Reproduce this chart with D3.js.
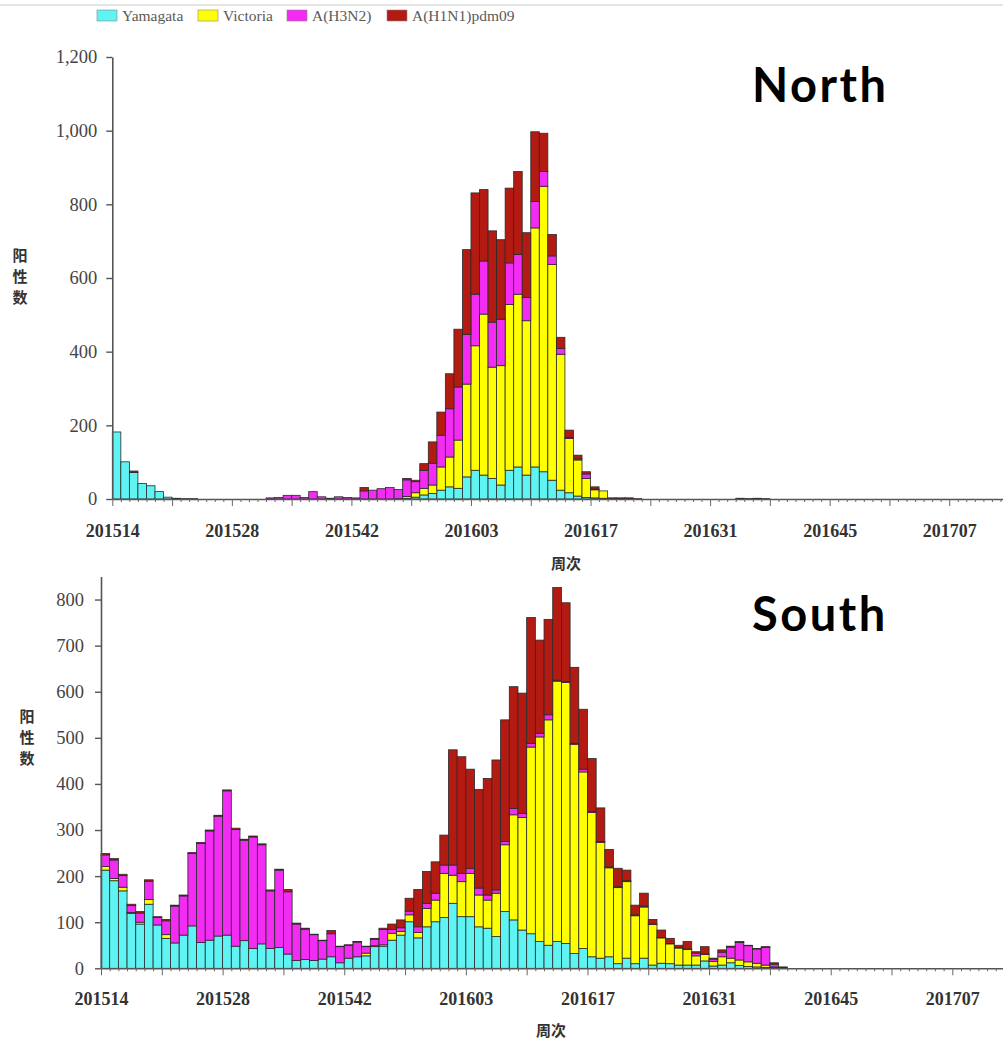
<!DOCTYPE html>
<html><head><meta charset="utf-8">
<script src="https://cdn.jsdelivr.net/npm/d3@7"></script>
<style>body{margin:0;background:#fff}svg{display:block}</style>
</head><body><svg id="c" width="1003" height="1044"></svg>
<script>
const weeks = [
"201514","201515","201516","201517","201518","201519","201520","201521","201522","201523",
"201524","201525","201526","201527","201528","201529","201530","201531","201532","201533",
"201534","201535","201536","201537","201538","201539","201540","201541","201542","201543",
"201544","201545","201546","201547","201548","201549","201550","201551","201552","201553",
"201601","201602","201603","201604","201605","201606","201607","201608","201609","201610",
"201611","201612","201613","201614","201615","201616","201617","201618","201619","201620",
"201621","201622","201623","201624","201625","201626","201627","201628","201629","201630",
"201631","201632","201633","201634","201635","201636","201637","201638","201639","201640",
"201641","201642","201643","201644","201645","201646","201647","201648","201649","201650",
"201651","201652","201701","201702","201703","201704","201705","201706","201707","201708",
"201709","201710","201711","201712","201713","201714"];
const tickLabels = ["201514","201528","201542","201603","201617","201631","201645","201707"];
const seriesNames = ["Yamagata","Victoria","A(H3N2)","A(H1N1)pdm09"];
const seriesColors = ["#5ff3f3","#ffff00","#f22cf2","#b31b12"];

// North
const northYamagata = [182,101,72,42,36,20,5,2,1,1,0,0,0,0,0,0,0,0,0,0,0,0,0,0,0,0,0,0,0,0,0,0,0,1,2,5,11,15,24,33,29,60,78,65,56,38,78,87,65,87,74,51,24,17,8,4,3,2,0,0,0,0,0,0,0,0,0,0,0,0,0,0,0,0,0,0,0,0,0,0,0,0,0,0,0,0,0,0,0,0,0,0,0,0,0,0,0,0,0,0,0,0,0,0,0,0];
const northVictoria = [0,0,0,0,0,0,0,0,0,0,0,0,0,0,0,0,0,0,0,0,0,0,0,0,0,0,0,0,0,0,0,0,0,0,5,12,18,23,63,81,131,252,338,437,302,324,450,469,419,649,775,586,369,147,98,52,22,20,0,0,0,0,0,0,0,0,0,0,0,0,0,0,0,0,0,0,0,0,0,0,0,0,0,0,0,0,0,0,0,0,0,0,0,0,0,0,0,0,0,0,0,0,0,0,0,0];
const northH3N2 = [0,0,0,0,0,0,0,0,0,0,0,0,0,0,0,0,0,0,3,4,10,10,4,20,6,2,6,4,3,22,24,28,31,25,45,30,49,59,86,131,144,135,140,144,122,126,113,108,63,72,40,23,16,3,3,12,2,0,2,2,2,1,0,0,0,0,0,0,0,0,0,0,0,2,0,2,1,0,0,0,0,0,0,0,0,0,0,0,0,0,0,0,0,0,0,0,0,0,0,0,0,0,0,0,0,0];
const northH1N1 = [0,0,4,0,0,0,0,0,0,0,0,0,0,0,0,0,0,0,0,0,0,0,0,0,0,0,0,0,0,9,0,0,0,0,4,4,18,58,63,95,157,230,275,194,248,216,203,225,176,189,104,58,30,20,10,6,6,0,1,1,1,0,0,0,0,0,0,0,0,0,0,0,0,0,1,0,0,0,0,0,0,0,0,0,0,0,0,0,0,0,0,0,0,0,0,0,0,0,0,0,0,0,0,0,0,0];

// South
const southYamagata = [213,190,168,119,96,139,94,65,55,72,92,56,61,70,72,48,60,43,53,43,45,31,17,19,17,20,25,12,22,25,27,47,48,61,72,101,66,90,101,110,141,112,112,90,87,69,123,105,83,75,58,50,58,54,32,43,25,22,25,10,22,10,22,7,11,10,7,7,7,16,5,7,12,6,4,3,2,1,0,0,0,0,0,0,0,0,0,0,0,0,0,0,0,0,0,0,0,0,0,0,0,0,0,0,0,0];
const southVictoria = [8,5,8,2,4,10,0,8,0,0,0,0,0,0,0,0,0,0,0,0,0,0,0,0,0,0,0,0,0,0,6,2,3,15,8,15,12,40,47,96,61,76,94,69,61,94,145,228,244,405,444,489,565,566,454,383,313,251,193,165,166,104,111,88,55,43,37,34,20,14,10,18,10,12,10,8,5,2,0,0,0,0,0,0,0,0,0,0,0,0,0,0,0,0,0,0,0,0,0,0,0,0,0,0,0,0];
const southH3N2 = [25,40,25,15,20,40,16,30,80,85,157,215,237,260,313,253,218,242,215,125,168,135,79,66,56,40,50,35,28,32,14,14,33,8,8,8,12,11,15,18,22,18,11,15,11,7,7,14,9,8,8,11,2,2,2,6,2,2,2,2,2,2,2,1,1,1,1,1,6,1,5,10,24,38,35,31,38,6,2,0,0,0,0,0,0,0,0,0,0,0,0,0,0,0,0,0,0,0,0,0,0,0,0,0,0,0];
const southH1N1 = [3,3,3,3,3,3,2,3,2,2,2,2,2,2,2,3,2,2,2,2,2,5,2,2,1,1,7,1,1,1,1,2,3,12,17,28,81,69,68,65,250,253,215,214,253,282,264,264,261,273,202,207,201,171,165,130,115,73,38,40,23,21,28,10,16,11,5,16,3,16,2,5,2,2,1,1,2,3,1,0,0,0,0,0,0,0,0,0,0,0,0,0,0,0,0,0,0,0,0,0,0,0,0,0,0,0];

const northTicks = [0,200,400,600,800,1000,1200];
const southTicks = [0,100,200,300,400,500,600,700,800];

const svg = d3.select("#c");
const serif = "'Liberation Serif','Times New Roman',serif";
const cjk = "'Noto Sans CJK SC',sans-serif";

// top rule
svg.append("line").attr("x1",0).attr("x2",1003).attr("y1",5).attr("y2",5)
  .attr("stroke","#e4e4e4").attr("stroke-width",2);

// legend
const legX = [97,198,287,387];
seriesNames.forEach((n,i)=>{
  svg.append("rect").attr("x",legX[i]).attr("y",10).attr("width",20).attr("height",11)
    .attr("fill",seriesColors[i]).attr("stroke","#888").attr("stroke-width",0.6);
  svg.append("text").attr("x",legX[i]+25).attr("y",20.5).text(n)
    .attr("font-family",serif).attr("font-size",15.5).attr("fill","#5a5a5a");
});

function panel(cfg){
  const rows = weeks.map((w,i)=>({week:w, Yamagata:cfg.data[0][i], Victoria:cfg.data[1][i], "A(H3N2)":cfg.data[2][i], "A(H1N1)pdm09":cfg.data[3][i]}));
  const stack = d3.stack().keys(seriesNames)(rows);
  const n = weeks.length;
  const x = d3.scaleBand().domain(weeks).range([cfg.x0, cfg.x0 + cfg.step*n]).padding(0);
  const xi = d3.scaleLinear().domain([0,n]).range([cfg.x0, cfg.x0 + cfg.step*n]);
  const y = d3.scaleLinear().domain([0,cfg.ymax]).range([cfg.y0, cfg.ytop]);
  const g = svg.append("g");
  stack.forEach((s,k)=>{
    g.append("g").selectAll("rect").data(s.filter(d=>d[1]-d[0]>0)).join("rect")
      .attr("x",d=>x(d.data.week)).attr("width",x.bandwidth())
      .attr("y",d=>y(d[1])).attr("height",d=>y(d[0])-y(d[1]))
      .attr("fill",seriesColors[k]).attr("stroke","#2a2a2a").attr("stroke-width",0.8);
  });
  // y axis
  const ya = g.append("g").attr("transform",`translate(${cfg.x0},0)`)
    .call(d3.axisLeft(y).tickValues(cfg.ticks).tickFormat(d3.format(",")).tickSize(6).tickSizeOuter(0).tickPadding(cfg.ypad));
  ya.select(".domain").attr("stroke","#555").attr("stroke-width",1.6);
  ya.selectAll(".tick line").attr("stroke","#555").attr("stroke-width",1.4);
  ya.selectAll(".tick text").attr("font-family",serif).attr("font-size",18.5).attr("fill","#444");
  // x axis minor / major ticks
  const xa = g.append("g").attr("transform",`translate(0,${cfg.y0})`)
    .call(d3.axisBottom(xi).tickValues(d3.range(0,n+1)).tickFormat("").tickSize(3).tickSizeOuter(0));
  xa.select(".domain").attr("stroke","#555").attr("stroke-width",1.6);
  xa.selectAll(".tick line").attr("stroke","#666").attr("stroke-width",1)
    .attr("y2",d=>d%7===0?7:3);
  const xl = g.append("g").attr("transform",`translate(0,${cfg.y0})`)
    .call(d3.axisBottom(xi).tickValues(tickLabels.map(l=>weeks.indexOf(l))).tickFormat(i=>weeks[i]).tickSize(0));
  xl.select(".domain").remove();
  xl.selectAll(".tick text").attr("y",cfg.xlab).attr("dy",0)
    .attr("font-family",serif).attr("font-size",18).attr("font-weight","bold").attr("fill","#333");
  // axis titles
  const yt = g.append("text").attr("font-family",cjk).attr("font-weight","bold").attr("font-size",15).attr("fill","#333")
    .attr("text-anchor","middle");
  ["阳","性","数"].forEach((c,i)=>yt.append("tspan").attr("x",cfg.ylx).attr("y",cfg.yly+i*21).text(c));
  g.append("text").attr("x",cfg.xtx).attr("y",cfg.xty).attr("text-anchor","middle")
    .attr("font-family",cjk).attr("font-weight","bold").attr("font-size",15).attr("fill","#333").text("周次");
  g.append("text").attr("x",752).attr("y",cfg.titleY).text(cfg.title)
    .attr("font-family","Lato,'Open Sans',sans-serif").attr("font-weight","bold").attr("font-size",47)
    .attr("letter-spacing",2.5).attr("fill","#000");
}

panel({data:[northYamagata,northVictoria,northH3N2,northH1N1], x0:112.3, step:8.54, y0:499, ytop:57, ymax:1200,
  ticks:northTicks, ypad:9, xlab:38, ylx:20, yly:261, xtx:566, xty:569, title:"North", titleY:102});
panel({data:[southYamagata,southVictoria,southH3N2,southH1N1], x0:101, step:8.687, y0:968.3, ytop:576.5, ymax:850,
  ticks:southTicks, ypad:11, xlab:37, ylx:27, yly:722, xtx:551, xty:1036, title:"South", titleY:631});
</script></body></html>
